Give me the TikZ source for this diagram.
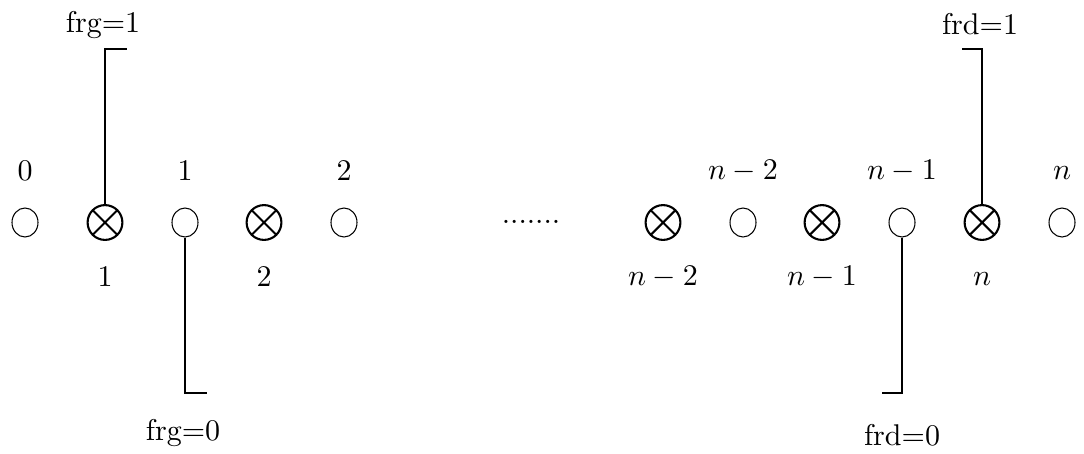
\documentclass[tikz,border=0pt]{standalone}
\usetikzlibrary{shapes.geometric}
\begin{document}
\begin{tikzpicture}[x=0.3333pt,y=-0.3333pt,
  site/.style={draw,ellipse,line width=0.35pt,minimum width=26\pgflinewidth,inner sep=0pt,
    minimum width=8.67pt,minimum height=9.67pt},
  cross/.style={draw,circle,line width=0.7pt,inner sep=0pt,minimum size=11.6pt,
    path picture={\draw[line width=0.7pt]
      (path picture bounding box.south west) -- (path picture bounding box.north east)
      (path picture bounding box.north west) -- (path picture bounding box.south east);}},
  lab/.style={anchor=base,inner sep=0pt},
  wire/.style={line width=0.9pt}]
\useasboundingbox (0,0) rectangle (1084,453);
% sites (open circles)
\node[site] (s0) at (25,222.5) {};
\node[site] (s1) at (185,222.5) {};
\node[site] (s2) at (344,222.5) {};
\node[site] (sn2) at (743,222.5) {};
\node[site] (sn1) at (902,222.5) {};
\node[site] (sn) at (1062,222.5) {};
% crossed circles
\node[cross] (x1) at (105,222.5) {};
\node[cross] (x2) at (264,222.5) {};
\node[cross] (xn2) at (663,222.5) {};
\node[cross] (xn1) at (822,222.5) {};
\node[cross] (xn) at (982,222.5) {};
% top labels
\node[lab] (t0) at (25,180) {0};
\node[lab] (t1) at (185,180) {1};
\node[lab] (t2) at (344,180) {2};
\node[lab] (tn2) at (743,179) {$n-2$};
\node[lab] (tn1) at (902,179) {$n-1$};
\node[lab] (tn) at (1062,179) {$n$};
% bottom labels
\node[lab] (b1) at (105,286) {1};
\node[lab] (b2) at (264,286) {2};
\node[lab] (bn2) at (663,285) {$n-2$};
\node[lab] (bn1) at (822,285) {$n-1$};
\node[lab] (bn) at (982,285) {$n$};
% dots
\node[lab] (dots) at (531,223.5) {.......};
% flags
\node[lab] (fg1) at (103,32) {frg=1};
\node[lab] (fg0) at (183,440) {frg=0};
\node[lab] (fd1) at (980,34) {frd=1};
\node[lab] (fd0) at (902,445) {frd=0};
\coordinate (eg1) at (127,49);
\coordinate (eg0) at (207,393);
\coordinate (ed1) at (962,49);
\coordinate (ed0) at (882,393);
\draw[wire] (x1.north) |- (eg1);
\draw[wire] (s1.south) |- (eg0);
\draw[wire] (xn.north) |- (ed1);
\draw[wire] (sn1.south) |- (ed0);
\end{tikzpicture}
\end{document}
